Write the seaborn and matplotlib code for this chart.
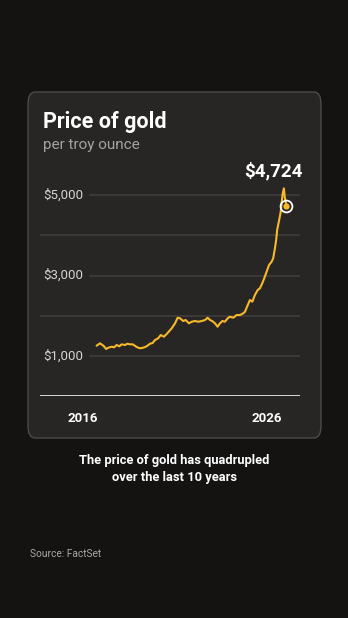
import numpy as np
import pandas as pd
import matplotlib
matplotlib.use("Agg")
import matplotlib.pyplot as plt
from matplotlib.patches import FancyBboxPatch
import seaborn as sns

# ---- data ----
years = [2016.52, 2016.69, 2016.86, 2017.00, 2017.11, 2017.28, 2017.40, 2017.53, 2017.66,
         2017.78, 2017.95, 2018.07, 2018.20, 2018.34, 2018.54, 2018.70, 2018.87, 2019.04,
         2019.21, 2019.34, 2019.46, 2019.62, 2019.75, 2019.91, 2020.08, 2020.30, 2020.47,
         2020.60, 2020.72, 2020.88, 2021.00, 2021.17, 2021.31, 2021.47, 2021.64, 2021.81,
         2021.98, 2022.11, 2022.23, 2022.34, 2022.48, 2022.61, 2022.73, 2022.85, 2022.98,
         2023.12, 2023.23, 2023.40, 2023.57, 2023.74, 2023.90, 2023.99, 2024.13, 2024.24,
         2024.36, 2024.49, 2024.63, 2024.74, 2024.86, 2024.96, 2025.08, 2025.20, 2025.33,
         2025.41, 2025.50, 2025.56, 2025.61, 2025.71, 2025.79, 2025.84, 2025.89, 2025.95,
         2025.99, 2026.08]
prices = [1256, 1315, 1256, 1174, 1206, 1231, 1216, 1273, 1241,
          1290, 1273, 1305, 1290, 1290, 1223, 1191, 1206, 1241,
          1305, 1323, 1397, 1440, 1521, 1479, 1564, 1688, 1812,
          1951, 1936, 1869, 1894, 1812, 1852, 1869, 1852, 1869,
          1894, 1951, 1894, 1869, 1812, 1728, 1812, 1869, 1852,
          1936, 1976, 1951, 2018, 2018, 2060, 2100, 2267, 2391,
          2349, 2515, 2639, 2681, 2806, 2930, 3094, 3260, 3342,
          3427, 3683, 3881, 4130, 4378, 4584, 4833, 5041, 5165,
          4957, 4724]
y_ticks = [1000, 3000, 5000]
y_tick_labels = ["$1,000", "$3,000", "$5,000"]
grid_values = [1000, 2000, 3000, 4000, 5000]
x_tick_labels = ["2016", "2026"]
x_tick_pos = [2015.84, 2025.10]
latest_label = "$4,724"

df = pd.DataFrame({"year": years, "price": prices})

# ---- style ----
sns.set_style("dark")
plt.rcParams["font.family"] = ["Roboto", "DejaVu Sans"]

BG = "#141312"
CARD = "#282624"
GOLD = "#f6b92b"

W, H = 348, 618
fig = plt.figure(figsize=(W / 100, H / 100), dpi=100, facecolor=BG)

def fx(px):
    return px / W

def fy(py):
    return 1 - py / H

# card
card = FancyBboxPatch((fx(28), fy(438)), fx(321) - fx(28), fy(92) - fy(438),
                      boxstyle="round,pad=0,rounding_size=0.02",
                      transform=fig.transFigure, facecolor=CARD,
                      edgecolor="#4d4b49", linewidth=1.0, zorder=-5)
fig.patches.append(card)

# axes
x_left, x_right = 2013.67, 2026.76
y_top_val = 5400
ax_left, ax_right = 40, 300
y0_px = 396.25
px_per_k = 40.25
ax_top_px = y0_px - y_top_val / 1000 * px_per_k
ax = fig.add_axes([fx(ax_left), fy(y0_px), fx(ax_right) - fx(ax_left),
                   (y0_px - ax_top_px) / H])
ax.set_zorder(2)
ax.set_facecolor("none")
ax.patch.set_alpha(0)
ax.set_xlim(x_left, x_right)
ax.set_ylim(0, y_top_val)
for s in ax.spines.values():
    s.set_visible(False)
ax.grid(False)

label_end = (90 - ax_left) / (ax_right - ax_left)
for g in grid_values:
    xmin = label_end if g in y_ticks else 0
    ax.axhline(g, xmin=xmin, xmax=1, color="#423f3d", lw=1.1, zorder=1)
ax.axhline(0, color="#e6e6e6", lw=1.3, zorder=2)

for v, lab in zip(y_ticks, y_tick_labels):
    ax.text(0.012, v, lab, transform=ax.get_yaxis_transform(), ha="left",
            va="center", color="#d4d4d4", fontsize=9.5)

sns.lineplot(data=df, x="year", y="price", ax=ax, color=GOLD, lw=1.5, zorder=3)
ax.plot([years[-1]], [prices[-1]], marker="o", ms=4.5, mfc=GOLD, mec=GOLD,
        mew=0, zorder=4, clip_on=False)
ax.plot([years[-1]], [prices[-1]], marker="o", ms=8.5, mfc="none", mec="white",
        mew=1.3, zorder=5, clip_on=False)

ax.set_yticks([])
ax.set_xticks(x_tick_pos)
ax.set_xticklabels(x_tick_labels, color="white", fontsize=9.5, fontweight="bold")
ax.tick_params(axis="x", length=0, pad=11)
ax.set_xlim(x_left, x_right)
ax.set_ylim(0, y_top_val)
ax.set_xlabel("")
ax.set_ylabel("")

# texts
fig.text(fx(43), fy(122), "Price of gold", color="white", fontsize=15.5,
         fontweight="bold", ha="left", va="center")
fig.text(fx(43), fy(145), "per troy ounce", color="#a3a3a3", fontsize=11,
         ha="left", va="center")
fig.text(fx(303), fy(171), latest_label, color="white", fontsize=13.5,
         fontweight="bold", ha="right", va="center")
fig.text(fx(174), fy(469), "The price of gold has quadrupled\nover the last 10 years",
         color="white", fontsize=9.3, fontweight="bold", ha="center", va="center",
         linespacing=1.45)
fig.text(fx(30), fy(554), "Source: FactSet", color="#a8a8a8", fontsize=7.3,
         ha="left", va="center")

fig.savefig("out.png", dpi=100, facecolor=BG)
